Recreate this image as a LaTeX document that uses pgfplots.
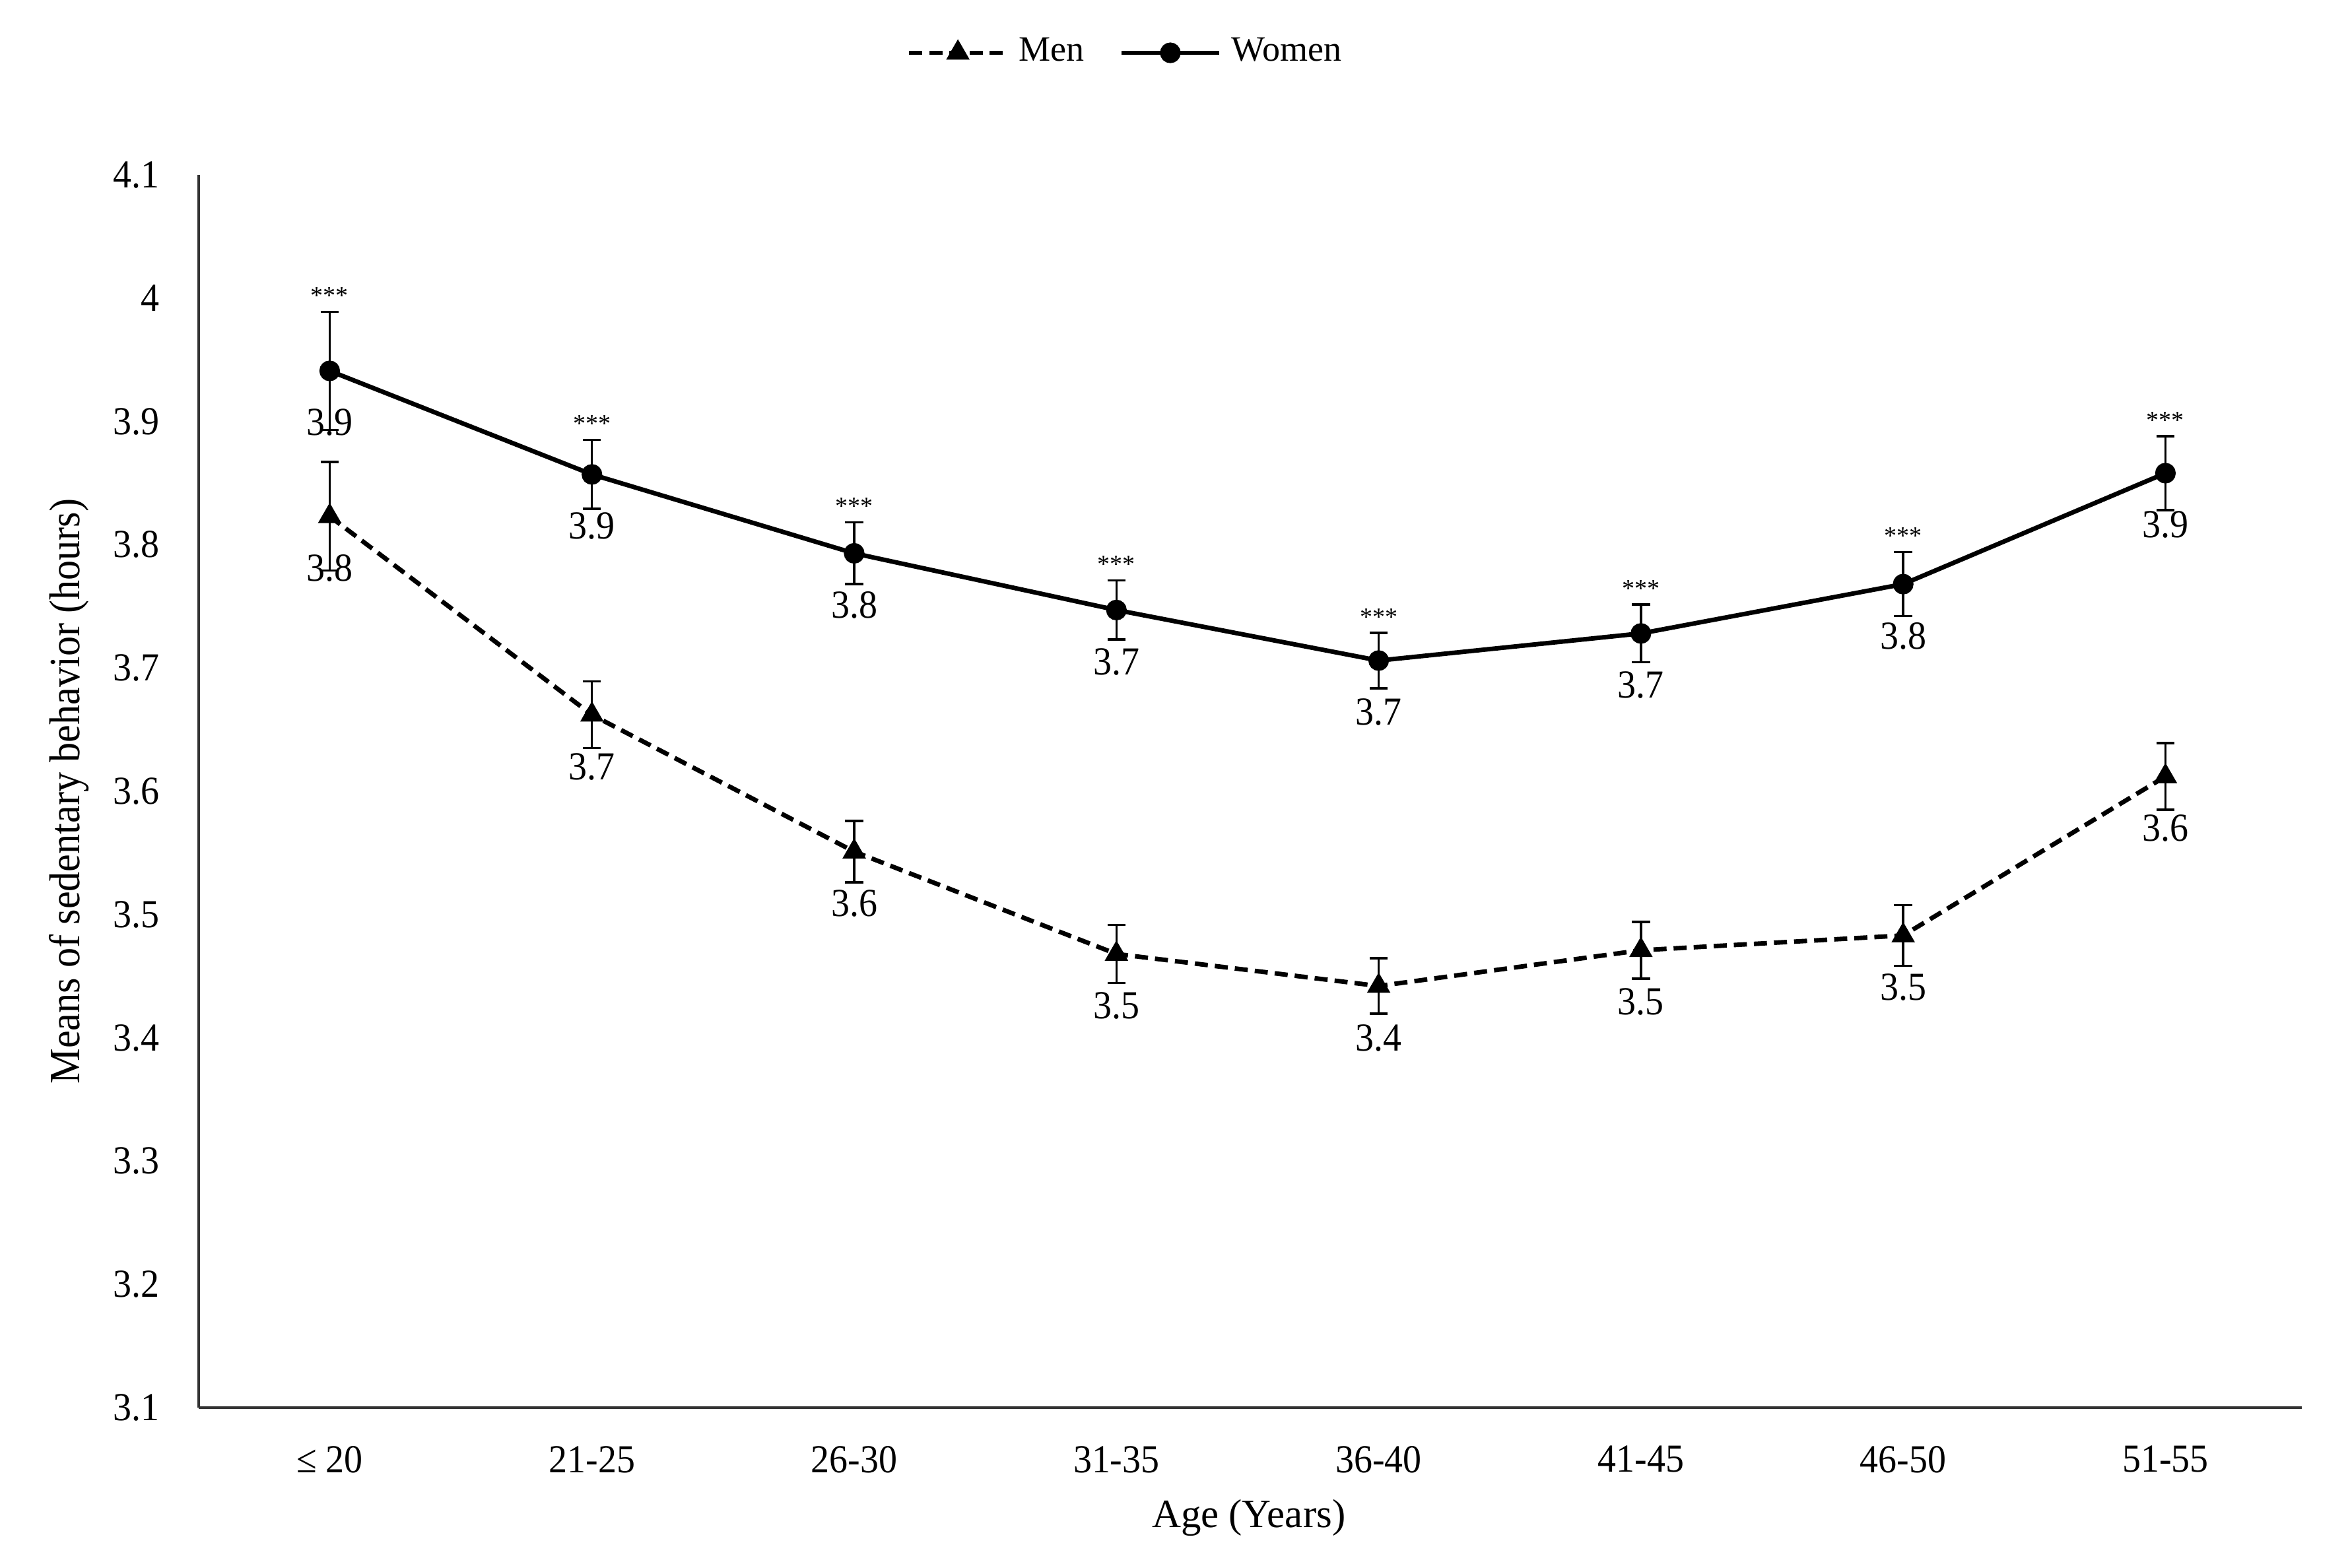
\documentclass[border=0pt]{standalone}
\usepackage{fontspec}
\setmainfont{Liberation Serif}
\newfontfamily\narrowfont{Liberation Serif}[FakeStretch=0.93]
\newfontfamily\ylabfont{Liberation Serif}[FakeStretch=0.92]
\usepackage{pgfplots}
\usepackage{pgfplotstable}
\pgfplotsset{compat=1.18}

\pgfplotstableread{
x y err
0 3.823 0.044
1 3.662 0.027
2 3.551 0.025
3 3.468 0.0235
4 3.442 0.0225
5 3.471 0.023
6 3.483 0.0245
7 3.612 0.027
}\mendata

\pgfplotstableread{
x y err
0 3.941 0.048
1 3.857 0.028
2 3.793 0.025
3 3.747 0.024
4 3.706 0.0225
5 3.728 0.0235
6 3.768 0.026
7 3.858 0.030
}\womendata

\begin{document}
\begin{tikzpicture}
\useasboundingbox (-39.5pt,-31.8pt) rectangle (427.6pt,280.1pt);
\begin{axis}[
  at={(0pt,0pt)}, anchor=south west,
  scale only axis, width=418.4pt, height=245.3pt,
  xmin=-0.5, xmax=7.52, ymin=3.1, ymax=4.1,
  clip=false,
  axis x line*=bottom, axis y line*=left,
  axis line style={-, line width=0.45pt, black!80},
  xtick={0,1,2,3,4,5,6,7},
  xticklabels={≤ 20,21-25,26-30,31-35,36-40,41-45,46-50,51-55},
  ytick={3.1,3.2,3.3,3.4,3.5,3.6,3.7,3.8,3.9,4,4.1},
  major tick length=0pt,
  /pgf/number format/assume math mode=true,
  tick label style={font=\narrowfont\fontsize{7.9}{9}\selectfont},
  xticklabel style={anchor=center, yshift=-10.3pt},
  yticklabel style={anchor=east, inner sep=0pt, xshift=-7.6pt},
  xlabel={Age (Years)},
  xlabel style={at={(axis description cs:0.4993,-0.0893)}, anchor=center, font=\fontsize{8}{10}\selectfont},
  ylabel={Means of sedentary behavior (hours)},
  ylabel style={at={(axis description cs:-0.0616,0.5)}, anchor=center, font=\ylabfont\fontsize{8.6}{10}\selectfont},
  legend style={at={(axis description cs:0.4425,1.099)}, anchor=center, draw=none, legend columns=2,
    font=\fontsize{7.1}{8}\selectfont, inner sep=0pt,
    /tikz/every even column/.append style={column sep=5pt}},
  legend cell align=left,
  legend image code/.code={\draw[mark repeat=2,mark phase=2] plot coordinates {(0cm,0cm) (0.34cm,0cm) (0.68cm,0cm)};},
]
\addplot[black, line width=0.9pt, dash pattern=on 2.6pt off 1.4pt,
  mark=triangle*, mark size=1.8pt, mark options={solid},
  nodes near coords={\pgfmathprintnumber[fixed,precision=1,fixed zerofill]{\pgfplotspointmeta}},
  nodes near coords style={anchor=center, yshift=-10.3pt, font=\narrowfont\fontsize{7.9}{9}\selectfont, /pgf/number format/assume math mode=true},
  error bars/.cd, y dir=both, y explicit,
  error bar style={line width=0.45pt, solid, black},
  error mark options={rotate=90, mark size=1.8pt, line width=0.45pt, solid, black}]
  table[x=x, y=y, y error=err] {\mendata};
\addlegendentry{Men}
\addplot[black, line width=0.9pt, solid,
  mark=*, mark size=1.6pt,
  nodes near coords={\pgfmathprintnumber[fixed,precision=1,fixed zerofill]{\pgfplotspointmeta}},
  nodes near coords style={anchor=center, yshift=-10.3pt, font=\narrowfont\fontsize{7.9}{9}\selectfont, /pgf/number format/assume math mode=true},
  error bars/.cd, y dir=both, y explicit,
  error bar style={line width=0.45pt, solid, black},
  error mark options={rotate=90, mark size=1.8pt, line width=0.45pt, solid, black}]
  table[x=x, y=y, y error=err] {\womendata};
\addlegendentry{Women}
\addplot[draw=none, mark=none, forget plot,
  nodes near coords={***},
  nodes near coords style={anchor=center, yshift=3.2pt, font=\fontsize{5}{5}\selectfont}]
  table[x=x, y expr=\thisrow{y}+\thisrow{err}] {\womendata};
\end{axis}
\end{tikzpicture}
\end{document}
